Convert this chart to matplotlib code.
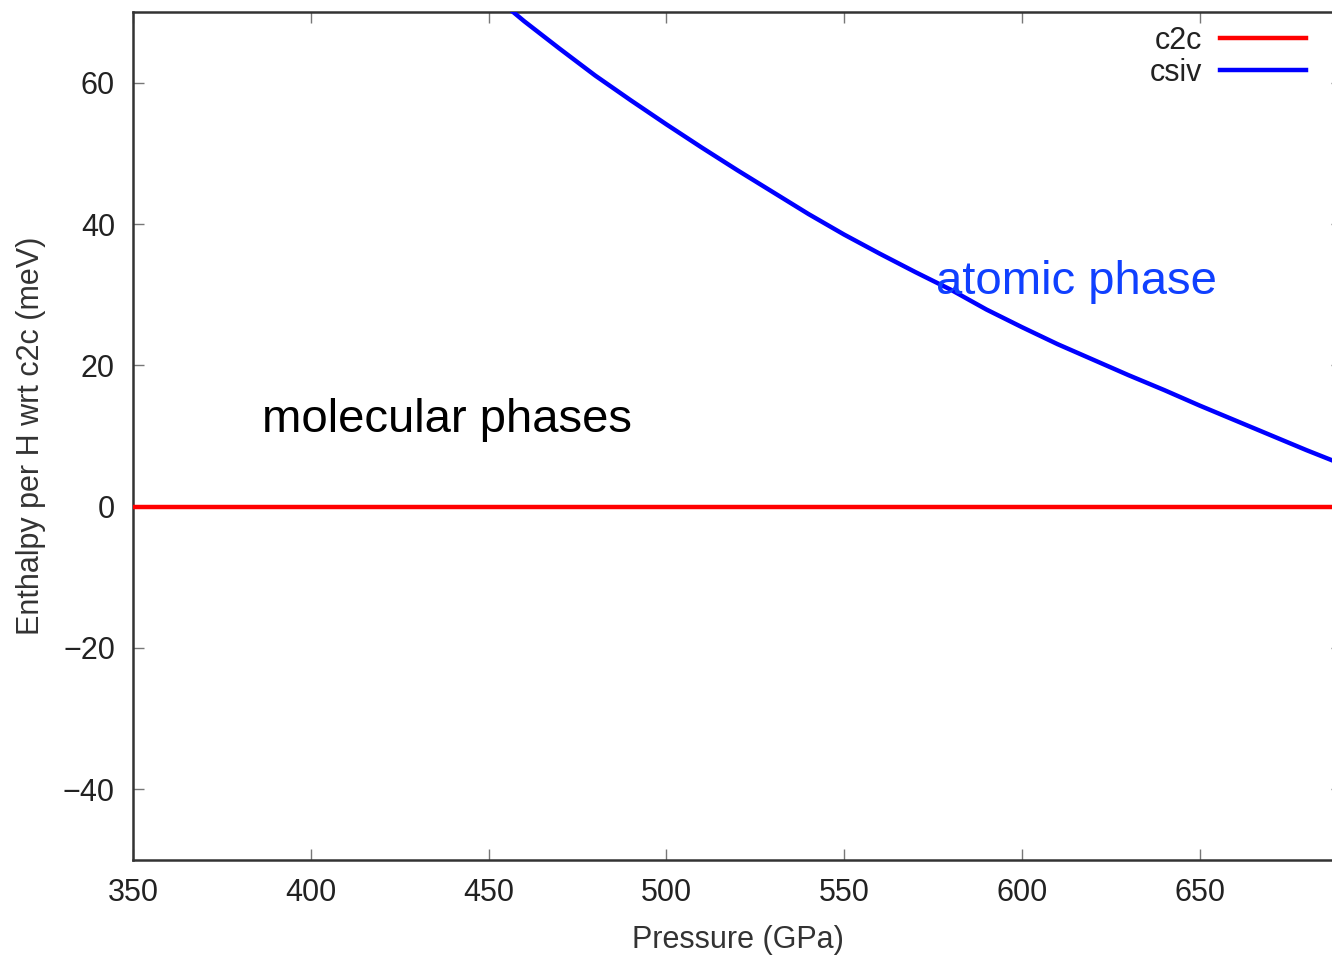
import matplotlib
matplotlib.use('Agg')
import matplotlib.pyplot as plt

plt.rcParams['font.family'] = ['Liberation Sans', 'DejaVu Sans']

# データ
pressure = [450, 460, 470, 480, 490, 500, 510, 520, 530, 540, 550, 560, 570,
            580, 590, 600, 610, 620, 630, 640, 650, 660, 670, 680, 690, 700]
csiv = [72.9, 68.7, 64.8, 61.0, 57.5, 54.1, 50.8, 47.6, 44.5, 41.4, 38.5, 35.8, 33.2,
        30.7, 27.9, 25.4, 23.0, 20.8, 18.6, 16.5, 14.3, 12.2, 10.1, 8.0, 6.0, 4.1]

pressure_c2c = [350, 700]
c2c = [0, 0]

xticks = [350, 400, 450, 500, 550, 600, 650]
yticks = [-40, -20, 0, 20, 40, 60]

W, H = 1332, 956
fig = plt.figure(figsize=(W / 100, H / 100), dpi=100)
# 軸は右端が画像の外まで伸びている
left, right, top, bottom = 133, 1342, 12, 860
ax = fig.add_axes([left / W, 1 - bottom / H, (right - left) / W, (bottom - top) / H])

ax.plot(pressure_c2c, c2c, color='#ff0000', lw=3.2, label='c2c', zorder=3)
ax.plot(pressure, csiv, color='#0000ff', lw=3.2, label='csiv', zorder=3)

ax.set_xticks(xticks)
ax.set_yticks(yticks)
ax.set_xlim(350, 690)
ax.set_ylim(-50, 70)

ax.tick_params(direction='in', length=8, width=1, color='#777777',
               top=True, right=True, labelsize=22, labelcolor='#222222', pad=13)
for s in ax.spines.values():
    s.set_linewidth(1.8)
    s.set_color('#333333')

ax.set_xlabel('Pressure (GPa)', fontsize=22, color='#333333', labelpad=12)
ax.set_ylabel('Enthalpy per H wrt c2c (meV)', fontsize=22, color='#333333', labelpad=12)

ax.text(386.2, 12.3, 'molecular phases', fontsize=34, color='black', va='center', ha='left')
ax.text(575.8, 31.8, 'atomic phase', fontsize=34, color='#1040ff', va='center', ha='left')

leg = fig.legend(loc='upper right', bbox_to_anchor=(1306 / W, 1 - 26 / H),
                 frameon=False, markerfirst=False, fontsize=22,
                 handlelength=2.8, handletextpad=0.6, labelspacing=0.05,
                 borderpad=0, borderaxespad=0)
for t in leg.get_texts():
    t.set_color('#222222')

fig.savefig('out.png', dpi=100)
